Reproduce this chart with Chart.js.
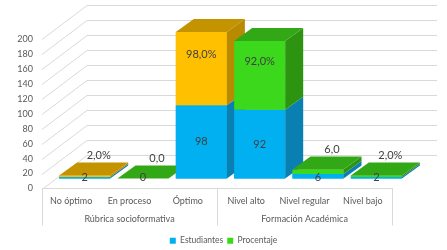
<!DOCTYPE html>
<html>
<head>
<meta charset="utf-8">
<script src="https://cdn.jsdelivr.net/npm/chart.js@4.4.0/dist/chart.umd.min.js"></script>
<style>
  html, body { margin: 0; padding: 0; background: #fff; }
  #wrap { width: 447px; height: 250px; }
</style>
</head>
<body>
<div id="wrap"><canvas id="chart"></canvas></div>
<script>
const categorias = ['No óptimo', 'En proceso', 'Óptimo', 'Nivel alto', 'Nivel regular', 'Nivel bajo'];
const grupos = ['Rúbrica socioformativa', 'Formación Académica'];
const estudiantes = [2, 0, 98, 92, 6, 2];
const porcentaje = [2, 0, 98, 92, 6, 2];
const etiquetasPorcentaje = ['2,0%', '0,0', '98,0%', '92,0%', '6,0', '2,0%'];
const ticksY = [0, 20, 40, 60, 80, 100, 120, 140, 160, 180, 200];

const azul = '#00B0F0';
const verde = '#3CD81C';
const oro = '#FFC000';
const coloresPorcentaje = [oro, verde, oro, verde, verde, verde];
// caras laterales / superiores
const oscuro = {
  [azul]: { lado: '#0A80B2', tapa: '#0A95CC' },
  [verde]: { lado: '#2C9410', tapa: '#33A816' },
  [oro]: { lado: '#B88A00', tapa: '#C49300' }
};

const FUENTE = 'Lato, "DejaVu Sans", sans-serif';
const DX = 18, DY = 13;      // profundidad de cada barra
const OFX = 13.5, OFY = 10;  // barras dentro del piso
const PX = 45, PY = 34;      // profundidad del piso / pared

const caja3d = {
  id: 'caja3d',
  beforeDatasetsDraw(chart) {
    const ctx = chart.ctx;
    const y = chart.scales.y;
    const { left, right } = chart.chartArea;
    ctx.save();
    ctx.strokeStyle = '#D9D9D9';
    ctx.lineWidth = 1;
    ticksY.forEach(v => {
      const py = Math.round(y.getPixelForValue(v)) + 0.5;
      ctx.beginPath();
      ctx.moveTo(left, py);
      ctx.lineTo(left + PX, py - PY);
      ctx.lineTo(right + PX, py - PY);
      ctx.stroke();
    });
    ctx.restore();
    ctx.save();
    ctx.translate(OFX, -OFY);
  },
  afterDatasetsDraw(chart) {
    const ctx = chart.ctx;
    const m0 = chart.getDatasetMeta(0).data;
    const m1 = chart.getDatasetMeta(1).data;
    for (let i = 0; i < categorias.length; i++) {
      [[m0[i], azul, false], [m1[i], coloresPorcentaje[i], true]].forEach(([el, col, arriba]) => {
        el.draw(ctx);
        const x1 = el.x + el.width / 2;
        const x0 = el.x - el.width / 2;
        ctx.fillStyle = oscuro[col].lado;
        ctx.beginPath();
        ctx.moveTo(x1, el.base);
        ctx.lineTo(x1, el.y);
        ctx.lineTo(x1 + DX, el.y - DY);
        ctx.lineTo(x1 + DX, el.base - DY);
        ctx.closePath();
        ctx.fill();
        if (arriba) {
          ctx.fillStyle = oscuro[col].tapa;
          ctx.beginPath();
          ctx.moveTo(x0, el.y);
          ctx.lineTo(x1, el.y);
          ctx.lineTo(x1 + DX, el.y - DY);
          ctx.lineTo(x0 + DX, el.y - DY);
          ctx.closePath();
          ctx.fill();
        }
      });
    }
    // etiquetas
    ctx.fillStyle = '#404040';
    ctx.font = '11px ' + FUENTE;
    ctx.textAlign = 'center';
    ctx.textBaseline = 'middle';
    for (let i = 0; i < categorias.length; i++) {
      const e = m0[i], p = m1[i];
      if (e.base - e.y > 14) ctx.fillText(String(estudiantes[i]), e.x, (e.y + e.base) / 2);
      else ctx.fillText(String(estudiantes[i]), e.x, e.base - 1);
      if (p.base - p.y > 20) ctx.fillText(etiquetasPorcentaje[i], p.x, (p.y + p.base) / 2 - 14);
      else ctx.fillText(etiquetasPorcentaje[i], p.x + 14, p.y - 20);
    }
    ctx.restore();
  },
  afterDraw(chart) {
    const ctx = chart.ctx;
    const x2 = chart.scales.x2;
    const b = chart.chartArea.bottom;
    const xs = [x2.left, (x2.getPixelForValue(0) + x2.getPixelForValue(1)) / 2, x2.right];
    ctx.save();
    ctx.strokeStyle = '#D9D9D9';
    ctx.lineWidth = 1;
    xs.forEach(x => {
      const px = Math.round(x) + 0.5;
      ctx.beginPath();
      ctx.moveTo(px, b);
      ctx.lineTo(px, x2.top + 15);
      ctx.stroke();
    });
    ctx.restore();
  }
};

new Chart(document.getElementById('chart'), {
  type: 'bar',
  data: {
    labels: categorias,
    datasets: [
      { label: 'Estudiantes', data: estudiantes, backgroundColor: azul, borderWidth: 0, clip: false },
      { label: 'Procentaje', data: porcentaje, backgroundColor: coloresPorcentaje, borderWidth: 0, clip: false }
    ]
  },
  options: {
    responsive: true,
    maintainAspectRatio: false,
    animation: false,
    events: [],
    layout: { padding: { top: 39, right: 0, left: 0, bottom: -5 } },
    datasets: { bar: { categoryPercentage: 1, barPercentage: 0.875 } },
    scales: {
      x: {
        stacked: true,
        grid: { display: false, drawTicks: false },
        border: { display: true, color: '#D9D9D9' },
        ticks: { color: '#595959', font: { family: FUENTE, size: 9 }, padding: 7, maxRotation: 0, autoSkip: false },
        afterFit: s => { s.height = 22; }
      },
      x2: {
        type: 'category',
        position: 'bottom',
        weight: 1,
        labels: grupos,
        offset: true,
        grid: { display: false, drawTicks: false },
        border: { display: false },
        ticks: { color: '#595959', font: { family: FUENTE, size: 9 }, padding: 3, maxRotation: 0 },
        afterFit: s => { s.height = 22; }
      },
      y: {
        stacked: true,
        min: 0,
        max: 200,
        grid: { display: false, drawTicks: false },
        border: { display: false },
        ticks: { stepSize: 20, autoSkip: false, color: '#595959', font: { family: FUENTE, size: 9 }, padding: 9 },
        afterFit: s => { s.width = 42; }
      },
      derecha: {
        type: 'linear',
        position: 'right',
        grid: { display: false, drawTicks: false },
        border: { display: false },
        ticks: { display: false },
        afterFit: s => { s.width = 55; }
      }
    },
    plugins: {
      tooltip: { enabled: false },
      legend: {
        position: 'bottom',
        labels: {
          boxWidth: 6,
          boxHeight: 6,
          padding: 4,
          color: '#595959',
          font: { family: FUENTE, size: 8.5 },
          generateLabels: chart => {
            const items = Chart.defaults.plugins.legend.labels.generateLabels(chart);
            items[0].fillStyle = azul;
            items[1].fillStyle = verde;
            items.forEach(it => { it.lineWidth = 0; it.strokeStyle = 'transparent'; });
            return items;
          }
        }
      }
    }
  },
  plugins: [caja3d]
});
</script>
</body>
</html>
